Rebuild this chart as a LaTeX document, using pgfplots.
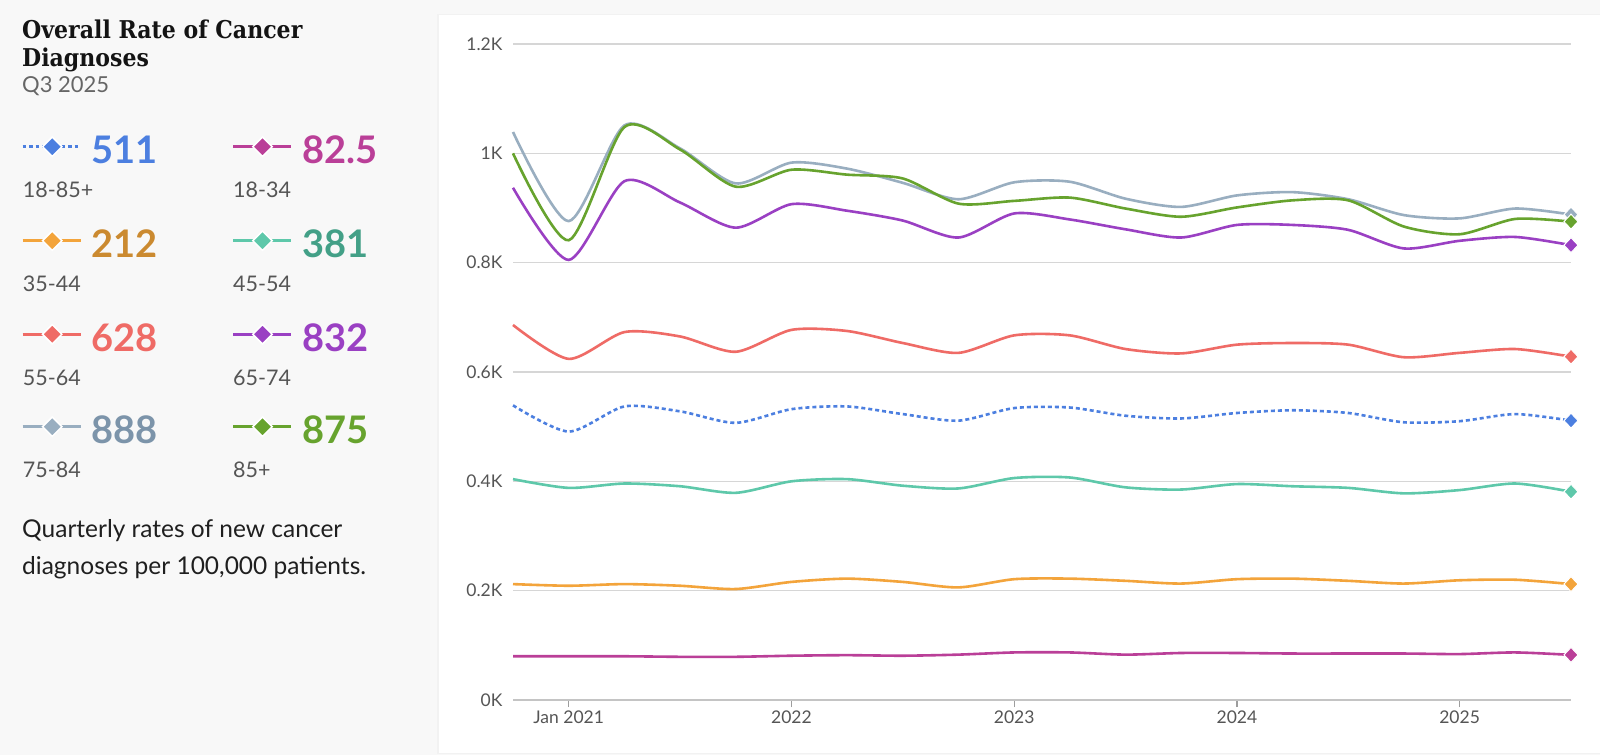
\documentclass[border=0pt]{standalone}
\usepackage{fontspec}
\setmainfont{Lato}
\newfontfamily\titlefont{DejaVu Serif}[FakeStretch=0.9]
\usepackage{pgfplots}
\usepackage{pgfplotstable}
\pgfplotsset{compat=1.18}
\usetikzlibrary{shapes.geometric}

\definecolor{bgc}{HTML}{F8F8F8}
\definecolor{cblue}{HTML}{4C7FE0}
\definecolor{cmag}{HTML}{BA3F98}
\definecolor{corange}{HTML}{F3A43B}
\definecolor{corangen}{HTML}{CB8A30}
\definecolor{cteal}{HTML}{5EC8AA}
\definecolor{ctealn}{HTML}{43A087}
\definecolor{cred}{HTML}{EF6B66}
\definecolor{cpurple}{HTML}{9A40C3}
\definecolor{cgray}{HTML}{99AEC0}
\definecolor{cgrayn}{HTML}{7C94AA}
\definecolor{cgreen}{HTML}{67A32E}
\definecolor{labc}{HTML}{555555}
\definecolor{gridc}{HTML}{D6D6D6}
\definecolor{axc}{HTML}{C4C4C4}

% quarters: 0 = Oct 2020 ... 19 = Jul 2025
\pgfplotstableread{
q  all  a1834 a3544 a4554 a5564 a6574 a7584 a85
0  539  80    212   404   686   937   1039  1000
1  491  80    209   388   624   805   876   841
2  537  80    212   396   673   949   1051  1048
3  528  79    209   391   665   910   1009  1007
4  507  79    203   379   637   864   945   939
5  532  81    216   400   677   907   983   970
6  537  82    222   404   675   895   972   961
7  523  81    216   392   653   877   946   954
8  511  83    206   387   635   846   916   908
9  534  87    221   406   667   890   947   913
10 535  87    222   407   667   879   948   919
11 520  83    218   389   642   861   917   899
12 515  86    213   385   634   846   902   884
13 525  86    221   395   650   869   923   901
14 530  85    222   391   653   869   929   914
15 525  85    218   388   650   860   916   914
16 508  85    213   378   627   826   887   866
17 510  84    219   384   635   840   881   852
18 523  87    220   396   642   847   899   880
19 511  82.5  212   381   628   832   888   875
}\datatable

\newcommand{\numfont}{\fontsize{38}{44}\selectfont\bfseries}
\newcommand{\labfont}{\fontsize{21.5}{25}\selectfont}

% legend entry: x, line centre y, line colour, line style, number colour, number, label
\newcommand{\stat}[7]{%
  \draw[#3, line width=3pt, #4] (#1,#2) -- ++(58,0);
  \node[diamond, fill=#3, draw=white, line width=1.5pt, minimum size=20pt, inner sep=0pt] at (#1+29.5,#2) {};
  \node[anchor=base west, inner sep=0pt, text=#5, font=\numfont] at (#1+69,#2-17.3) {#6};
  \node[anchor=base west, inner sep=0pt, text=labc, font=\labfont] at (#1,#2-51.3) {#7};
}

\begin{document}
\begin{tikzpicture}[x=1pt, y=1pt]
\useasboundingbox (0,0) rectangle (1600,755);
\fill[bgc] (0,0) rectangle (1600,755);
\fill[black!5] (437,1) rectangle (1600,741);
\fill[white] (439,2) rectangle (1600,740);

% left panel
\node[anchor=base west, inner sep=0pt, font=\titlefont\bfseries\fontsize{24.5}{29}\selectfont, text=black!92] at (22,716.7) {Overall Rate of Cancer};
\node[anchor=base west, inner sep=0pt, font=\titlefont\bfseries\fontsize{24.5}{29}\selectfont, text=black!92] at (22,688) {Diagnoses};
\node[anchor=base west, inner sep=0pt, font=\fontsize{22}{26}\selectfont, text=black!60] at (22,662) {Q3 2025};

\stat{22.7}{608.3}{cblue}{dash pattern=on 3.5pt off 3pt}{cblue}{511}{18-85+}
\stat{233}{608.3}{cmag}{}{cmag}{82.5}{18-34}
\stat{22.7}{514.3}{corange}{}{corangen}{212}{35-44}
\stat{233}{514.3}{cteal}{}{ctealn}{381}{45-54}
\stat{22.7}{420.7}{cred}{}{cred}{628}{55-64}
\stat{233}{420.7}{cpurple}{}{cpurple}{832}{65-74}
\stat{22.7}{328.3}{cgray}{}{cgrayn}{888}{75-84}
\stat{233}{328.3}{cgreen}{}{cgreen}{875}{85+}

\node[anchor=base west, inner sep=0pt, font=\fontsize{24.5}{29}\selectfont, text=black!88] at (22,217) {Quarterly rates of new cancer};
\node[anchor=base west, inner sep=0pt, font=\fontsize{24.5}{29}\selectfont, text=black!88] at (22,180) {diagnoses per 100,000 patients.};

\begin{axis}[
    at={(513pt,55pt)}, anchor=south west,
    scale only axis, width=1058pt, height=656pt,
    xmin=0, xmax=19, ymin=0, ymax=1200,
    clip=false,
    axis x line*=bottom, axis y line*=left,
    y axis line style={draw=none},
    x axis line style={draw=axc, line width=1.2pt},
    ymajorgrids,
    grid style={draw=gridc, line width=1.2pt},
    ytick={0,200,...,1200},
    yticklabels={0K,0.2K,0.4K,0.6K,0.8K,1K,1.2K},
    xtick={1,5,9,13,17},
    xticklabels={Jan 2021,2022,2023,2024,2025},
    ytick style={draw=none},
    xtick style={draw=axc!80!black, line width=1.2pt},
    tick align=outside,
    major tick length=7pt,
    ticklabel style={font=\fontsize{17.5}{20}\selectfont, text=labc},
    every axis plot/.append style={smooth, tension=0.45, line width=2.6pt,
        mark=diamond*, mark indices={20}, mark size=7.5pt},
]
\addplot[cblue, dash pattern=on 4pt off 3pt, mark options={solid, fill=cblue, draw=white, line width=1pt, xscale=1.25}] table[x=q, y=all]{\datatable};
\addplot[cmag, mark options={fill=cmag, draw=white, line width=1pt, xscale=1.25}] table[x=q, y=a1834]{\datatable};
\addplot[corange, mark options={fill=corange, draw=white, line width=1pt, xscale=1.25}] table[x=q, y=a3544]{\datatable};
\addplot[cteal, mark options={fill=cteal, draw=white, line width=1pt, xscale=1.25}] table[x=q, y=a4554]{\datatable};
\addplot[cred, mark options={fill=cred, draw=white, line width=1pt, xscale=1.25}] table[x=q, y=a5564]{\datatable};
\addplot[cpurple, mark options={fill=cpurple, draw=white, line width=1pt, xscale=1.25}] table[x=q, y=a6574]{\datatable};
\addplot[cgray, mark options={fill=cgray, draw=white, line width=1pt, xscale=1.25}] table[x=q, y=a7584]{\datatable};
\addplot[cgreen, mark options={fill=cgreen, draw=white, line width=1pt, xscale=1.25}] table[x=q, y=a85]{\datatable};
\end{axis}
\end{tikzpicture}
\end{document}
